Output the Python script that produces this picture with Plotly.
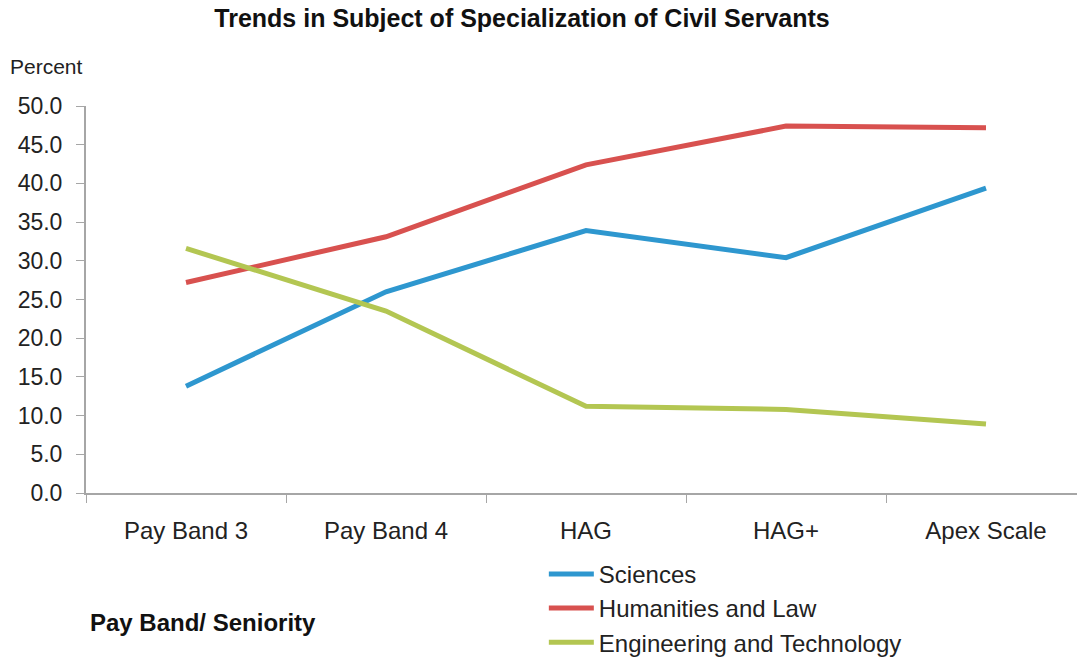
import plotly.graph_objects as go

# Pay band categories along the x-axis
pay_bands = ["Pay Band 3", "Pay Band 4", "HAG", "HAG+", "Apex Scale"]

# Share (percent) of civil servants by subject of specialization
sciences = [13.8, 26.0, 33.9, 30.4, 39.4]
humanities_law = [27.2, 33.1, 42.4, 47.4, 47.2]
engineering_tech = [31.6, 23.5, 11.2, 10.8, 8.9]

y_ticks = [0, 5, 10, 15, 20, 25, 30, 35, 40, 45, 50]

FONT = "Liberation Sans, Arial, sans-serif"
AXIS_GREY = "#A6A6A6"

series = [
    ("Sciences", sciences, "#2E97CF"),
    ("Humanities and Law", humanities_law, "#D8514F"),
    ("Engineering and Technology", engineering_tech, "#B3C652"),
]

fig = go.Figure()
for i, (name, vals, color) in enumerate(series):
    fig.add_trace(go.Scatter(
        x=pay_bands, y=vals, name=name, mode="lines",
        line=dict(color=color, width=5),
        legendgroup=f"g{i}",
    ))

fig.update_layout(
    width=1077, height=659,
    margin=dict(l=86, r=0, t=106, b=166, autoexpand=False),
    paper_bgcolor="white", plot_bgcolor="white",
    font=dict(family=FONT, color="#222222"),
    title=dict(
        text="<b>Trends in Subject of Specialization of Civil Servants</b>",
        x=0.4847, xref="container", xanchor="center",
        y=1 - 18 / 659, yref="container", yanchor="middle",
        font=dict(size=25, family=FONT, color="#111111"),
    ),
    showlegend=True,
    legend=dict(
        x=0.462, y=-0.152, xanchor="left", yanchor="top",
        font=dict(size=24, family=FONT, color="#222222"),
        bgcolor="rgba(0,0,0,0)", tracegroupgap=1,
        traceorder="normal", itemwidth=45,
    ),
    xaxis=dict(
        type="category", range=[-0.5, 4.455],
        showgrid=False, zeroline=False,
        showline=True, linecolor=AXIS_GREY, linewidth=2,
        ticks="outside", tickson="boundaries", ticklen=8,
        tickcolor=AXIS_GREY, tickwidth=1,
        tickfont=dict(size=24, family=FONT, color="#222222"),
        ticklabelstandoff=15,
    ),
    yaxis=dict(
        range=[0, 50], tickvals=y_ticks,
        tickformat=".1f",
        showgrid=False, zeroline=False,
        showline=True, linecolor=AXIS_GREY, linewidth=2,
        ticks="outside", ticklen=8, tickcolor=AXIS_GREY, tickwidth=1,
        tickfont=dict(size=23, family=FONT, color="#222222"),
        ticklabelstandoff=9,
    ),
)

fig.add_annotation(
    text="Percent", xref="paper", yref="paper",
    x=-0.0787, y=1.103, xanchor="left", yanchor="middle",
    showarrow=False, font=dict(size=21, family=FONT, color="#222222"),
)
fig.add_annotation(
    text="<b>Pay Band/ Seniority</b>", xref="paper", yref="paper",
    x=0.002, y=-0.335, xanchor="left", yanchor="middle",
    showarrow=False, font=dict(size=24, family=FONT, color="#111111"),
)

fig.write_html("out.html")
